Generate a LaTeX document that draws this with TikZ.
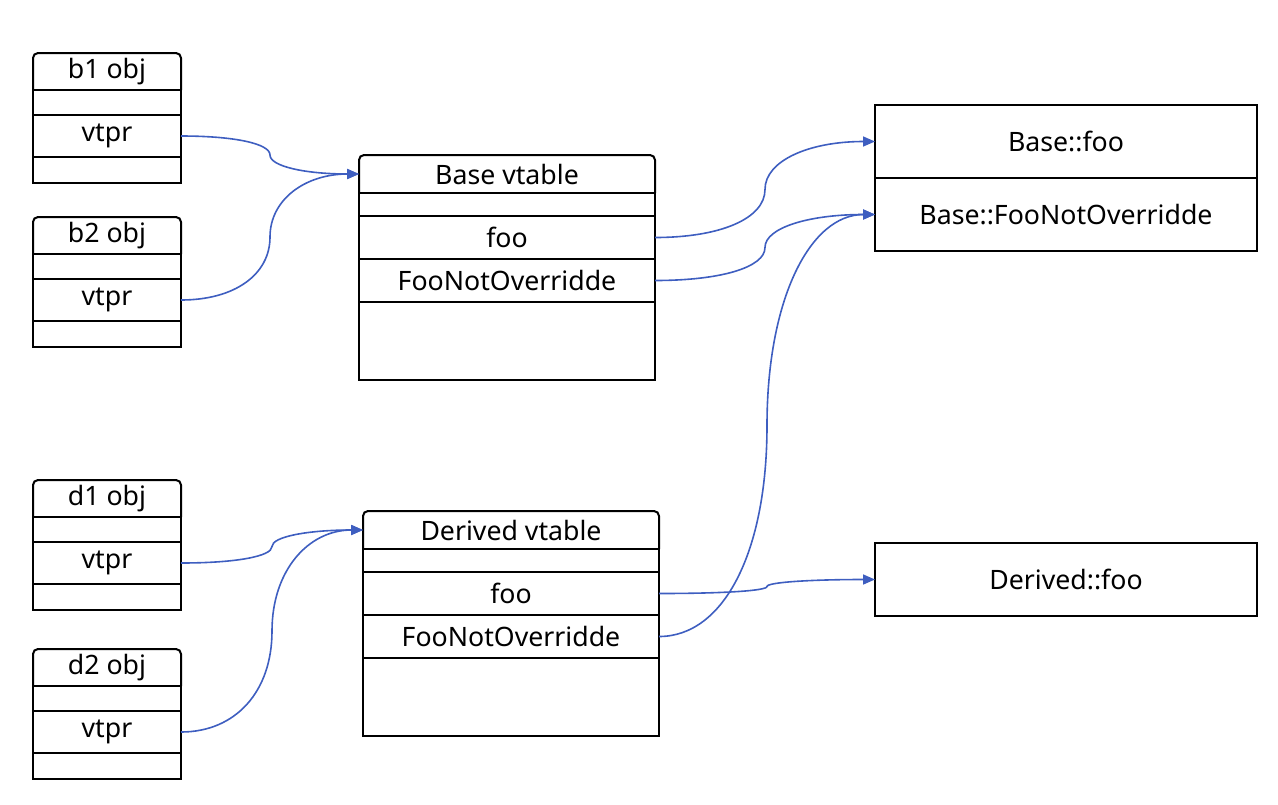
\documentclass[tikz,border=0pt]{standalone}
\usepackage{fontspec}
\setmainfont{Noto Sans}
\usetikzlibrary{arrows.meta,calc,positioning}
\definecolor{linkblue}{RGB}{62,94,192}

\begin{document}
\begin{tikzpicture}[
  x=1pt,y=-1pt,
  font=\fontsize{26.7}{31}\selectfont,
  cell/.style={draw,line width=2pt,outer sep=0pt,inner sep=0pt,minimum width=#1},
  head/.style={outer sep=0pt,inner sep=0pt,minimum width=#1},
  func/.style={draw,line width=2pt,outer sep=0pt,inner sep=0pt,minimum width=382pt,minimum height=73pt},
  link/.style={line width=1.6pt,draw=linkblue,-{Triangle[length=12pt,width=10pt]},
    to path={let \p1=(\tikztostart), \p2=(\tikztotarget) in
      .. controls ({0.7*\x1+0.3*\x2},\y1) and ({0.5*\x1+0.5*\x2},{0.8*\y1+0.2*\y2})
      .. ({0.5*\x1+0.5*\x2},{0.5*\y1+0.5*\y2})
      .. controls ({0.5*\x1+0.5*\x2},{0.2*\y1+0.8*\y2}) and ({0.3*\x1+0.7*\x2},\y2)
      .. (\tikztotarget)}}]
  \useasboundingbox (0,0) rectangle (1278,804);

  % object boxes
  \foreach \obj/\top in {b1/53,b2/217,d1/480,d2/649}{
    \node[head=148pt,minimum height=37pt,anchor=north west] (\obj) at (33,\top) {\obj{} obj};
    \node[cell=148pt,minimum height=25pt,below=0pt of \obj] (\obj e) {};
    \node[cell=148pt,minimum height=42pt,below=0pt of \obj e] (\obj v) {vtpr};
    \node[cell=148pt,minimum height=26pt,below=0pt of \obj v] (\obj x) {};
    \draw[line width=2pt,rounded corners=5pt] (\obj.south west) -- (\obj.north west)
      -- (\obj.north east) -- (\obj.south east);
  }

  % vtables
  \foreach \tab/\name/\lft/\top in {bt/Base/359/155,dt/Derived/363/511}{
    \node[head=296pt,minimum height=38pt,anchor=north west] (\tab) at (\lft,\top) {\name{} vtable};
    \node[cell=296pt,minimum height=23pt,below=0pt of \tab] (\tab e) {};
    \node[cell=296pt,minimum height=43pt,below=0pt of \tab e] (\tab f) {foo};
    \node[cell=296pt,minimum height=43pt,below=0pt of \tab f] (\tab n) {FooNotOverridde};
    \node[cell=296pt,minimum height=78pt,below=0pt of \tab n] (\tab x) {};
    \draw[line width=2pt,rounded corners=5pt] (\tab.south west) -- (\tab.north west)
      -- (\tab.north east) -- (\tab.south east);
  }

  % functions
  \node[func,anchor=north west] (basefoo) at (875,105) {Base::foo};
  \node[func,below=0pt of basefoo] (basenot) {Base::FooNotOverridde};
  \node[func,anchor=north west] (derfoo) at (875,543) {Derived::foo};

  % pointers
  \draw[link] (b1v.east) to (bt.west);
  \draw[link] (b2v.east) to (bt.west);
  \draw[link] (d1v.east) to (dt.west);
  \draw[link] (d2v.east) to (dt.west);
  \draw[link] (btf.east) to (basefoo.west);
  \draw[link] (btn.east) to (basenot.west);
  \draw[link] (dtf.east) to (derfoo.west);
  \draw[link] (dtn.east) to (basenot.west);
\end{tikzpicture}
\end{document}
